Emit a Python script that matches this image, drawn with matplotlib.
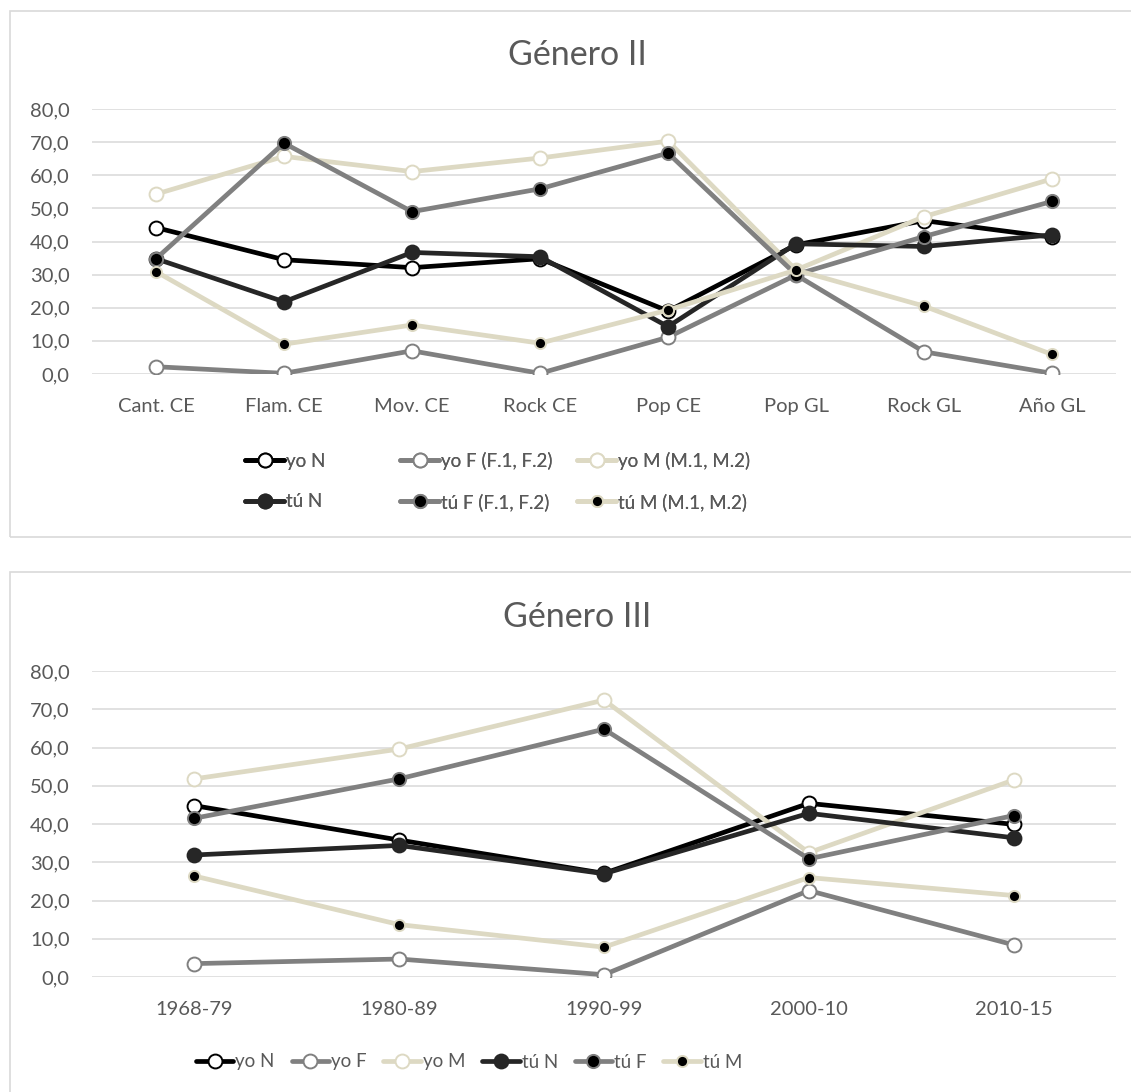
import numpy as np
import matplotlib
matplotlib.use('Agg')
import matplotlib.pyplot as plt
from matplotlib.patches import Rectangle

plt.rcParams['font.family'] = ['Lato', 'DejaVu Sans']

# Género II
cats_2 = ['Cant. CE', 'Flam. CE', 'Mov. CE', 'Rock CE', 'Pop CE', 'Pop GL', 'Rock GL', 'Año GL']
yo_n_2 = [44.2, 34.5, 32.1, 34.8, 19.0, 39.0, 46.3, 41.3]
yo_f_2 = [2.2, 0.2, 7.0, 0.2, 11.1, 29.9, 6.7, 0.2]
yo_m_2 = [54.3, 65.7, 61.1, 65.2, 70.3, 31.4, 47.5, 58.9]
tu_n_2 = [34.8, 21.8, 36.7, 35.4, 14.3, 39.3, 38.5, 42.0]
tu_f_2 = [34.8, 69.7, 49.0, 55.9, 66.7, 30.0, 41.5, 52.1]
tu_m_2 = [30.9, 9.0, 14.8, 9.3, 19.3, 31.4, 20.5, 5.9]
labels_2 = ['yo N', 'yo F (F.1, F.2)', 'yo M (M.1, M.2)', 'tú N', 'tú F (F.1, F.2)', 'tú M (M.1, M.2)']

# Género III
cats_3 = ['1968-79', '1980-89', '1990-99', '2000-10', '2010-15']
yo_n_3 = [44.8, 35.8, 27.1, 45.4, 39.9]
yo_f_3 = [3.5, 4.7, 0.6, 22.6, 8.4]
yo_m_3 = [51.8, 59.6, 72.4, 32.5, 51.5]
tu_n_3 = [31.9, 34.4, 27.0, 42.8, 36.4]
tu_f_3 = [41.5, 51.8, 64.8, 30.9, 42.2]
tu_m_3 = [26.4, 13.7, 7.8, 26.0, 21.3]
labels_3 = ['yo N', 'yo F', 'yo M', 'tú N', 'tú F', 'tú M']

BLACK = '#000000'
DARK = '#262626'
GRAY = '#808080'
BEIGE = '#ddd9c3'
TXT = '#595959'
GRID = '#d9d9d9'

# line colour, marker face, marker edge, marker size
styles = [
    (BLACK, 'white', BLACK, 10),
    (GRAY, 'white', GRAY, 10),
    (BEIGE, 'white', BEIGE, 10),
    (DARK, DARK, DARK, 10),
    (GRAY, BLACK, GRAY, 9.5),
    (BEIGE, BLACK, BEIGE, 8),
]

W, H = 1131, 1092
fig = plt.figure(figsize=(W / 100, H / 100), dpi=100)


def px(x0, y0, x1, y1):
    return [x0 / W, 1 - y1 / H, (x1 - x0) / W, (y1 - y0) / H]


# chart boxes
for y0, y1 in [(11, 537), (572, 1120)]:
    fig.patches.append(Rectangle((10 / W, 1 - y1 / H), (1140 - 10) / W, (y1 - y0) / H,
                                 transform=fig.transFigure, fill=False,
                                 edgecolor=GRID, lw=1.2, zorder=0))


def draw(ax, cats, series):
    x = np.arange(len(cats))
    handles = []
    for vals, (lc, mf, me, ms) in zip(series, styles):
        h, = ax.plot(x, vals, color=lc, lw=3.4, marker='o', markersize=ms,
                     markerfacecolor=mf, markeredgecolor=me, markeredgewidth=1.4,
                     solid_capstyle='round', solid_joinstyle='round')
        handles.append(h)
    ax.set_xlim(-0.5, len(cats) - 0.5)
    ax.set_ylim(0, 80)
    ax.set_yticks(np.arange(0, 81, 10))
    ax.set_yticklabels([f'{v:.1f}'.replace('.', ',') for v in np.arange(0, 81, 10)])
    ax.set_xticks(x)
    ax.set_xticklabels(cats)
    ax.grid(axis='y', color=GRID, lw=1.1)
    ax.set_axisbelow(True)
    for s in ax.spines.values():
        s.set_visible(False)
    ax.tick_params(length=0, colors=TXT, labelsize=14.5)
    ax.tick_params(axis='y', pad=16)
    ax.tick_params(axis='x', pad=17)
    return handles


def entry(h, lab, x, y):
    leg = fig.legend([h], [lab], loc='center left', bbox_to_anchor=(x / W, 1 - y / H),
                     frameon=False, fontsize=13.5, labelcolor=TXT, handlelength=2.1,
                     handletextpad=0.1, numpoints=1, borderpad=0, borderaxespad=0)
    fig.add_artist(leg)


ax1 = fig.add_axes(px(92, 109, 1116, 374))
h2 = draw(ax1, cats_2, [yo_n_2, yo_f_2, yo_m_2, tu_n_2, tu_f_2, tu_m_2])
fig.text(577 / W, 1 - 55 / H, 'Género II', ha='center', va='center', fontsize=24.5, color=TXT)

ax2 = fig.add_axes(px(92, 671, 1116, 977))
h3 = draw(ax2, cats_3, [yo_n_3, yo_f_3, yo_m_3, tu_n_3, tu_f_3, tu_m_3])
fig.text(577 / W, 1 - 617 / H, 'Género III', ha='center', va='center', fontsize=24.5, color=TXT)

# top legend: 3 columns x 2 rows
col_x = [245, 400, 577]
row_y = [461, 502]
for i in range(6):
    entry(h2[i], labels_2[i], col_x[i % 3], row_y[i // 3])

# bottom legend: one row
fig.legend(h3, labels_3, loc='center', bbox_to_anchor=(469 / W, 1 - 1062 / H), ncol=6,
           frameon=False, fontsize=13.5, labelcolor=TXT, handlelength=2.0,
           handletextpad=0.1, columnspacing=0.9, numpoints=1,
           borderpad=0, borderaxespad=0)

fig.savefig('out.png', dpi=100)
